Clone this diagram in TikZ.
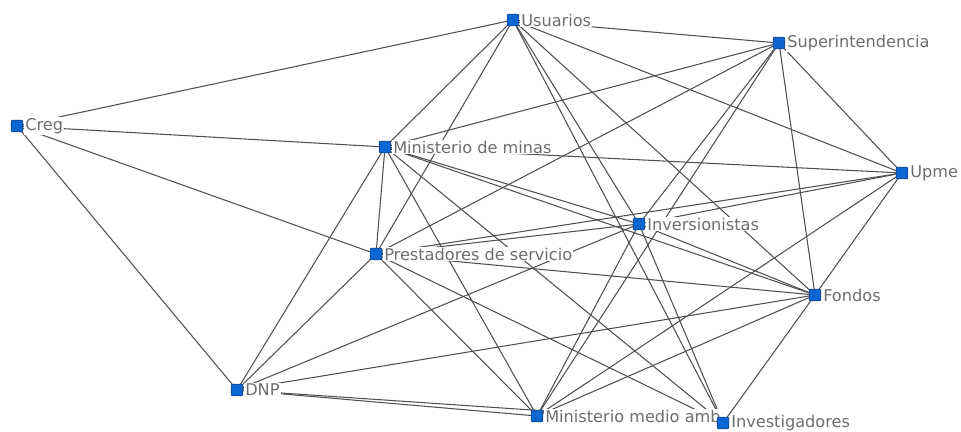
\documentclass[tikz,border=0pt]{standalone}
\usepackage{fontspec}
\setmainfont{DejaVu Sans}
\usetikzlibrary{backgrounds}
\definecolor{nodeblue}{RGB}{12,102,210}
\definecolor{nodeedge}{RGB}{20,70,150}
\definecolor{tagtext}{RGB}{110,110,110}
\definecolor{linkgray}{RGB}{80,80,80}
\tikzset{
  actor/.style={draw=nodeedge,fill=nodeblue,minimum size=6.6pt,inner sep=0pt,rounded corners=0.6pt,line width=0.4pt},
  tag/.style={font=\fontsize{9.2}{11}\selectfont,text=tagtext,fill=white,inner sep=0.6pt},
  link/.style={draw=linkgray,line width=0.6pt}
}
\begin{document}
\begin{tikzpicture}[x=0.02cm,y=-0.02cm,label distance=0.4pt]
\useasboundingbox (0,0) rectangle (961,432);
\node[actor,label={[tag]right:Usuarios}] (usu) at (513,20) {};
\node[actor,label={[tag]right:Superintendencia}] (sup) at (779,43) {};
\node[actor,label={[tag]right:Creg}] (creg) at (17,126) {};
\node[actor,label={[tag]right:Ministerio de minas}] (minas) at (385,147) {};
\node[actor,label={[tag]right:Upme}] (upme) at (902,173) {};
\node[actor,label={[tag]right:Inversionistas}] (inver) at (639,224) {};
\node[actor,label={[tag]right:Prestadores de servicio}] (prest) at (376,254) {};
\node[actor,label={[tag]right:Fondos}] (fondos) at (815,295) {};
\node[actor,label={[tag]right:DNP}] (dnp) at (237,390) {};
\node[actor,label={[tag]right:Ministerio medio amb}] (medio) at (537,416) {};
\node[actor,label={[tag]right:Investigadores}] (invest) at (723,423) {};
\begin{pgfonlayer}{background}
\draw[link](creg.center)--(usu.center);
\draw[link](creg.center)--(minas.center);
\draw[link](creg.center)--(prest.center);
\draw[link](creg.center)--(dnp.center);
\draw[link](usu.center)--(sup.center);
\draw[link](usu.center)--(minas.center);
\draw[link](usu.center)--(prest.center);
\draw[link](usu.center)--(upme.center);
\draw[link](usu.center)--(fondos.center);
\draw[link](usu.center)--(inver.center);
\draw[link](usu.center)--(invest.center);
\draw[link](sup.center)--(minas.center);
\draw[link](sup.center)--(prest.center);
\draw[link](sup.center)--(inver.center);
\draw[link](sup.center)--(medio.center);
\draw[link](sup.center)--(fondos.center);
\draw[link](sup.center)--(upme.center);
\draw[link](minas.center)--(upme.center);
\draw[link](minas.center)--(dnp.center);
\draw[link](minas.center)--(prest.center);
\draw[link](minas.center)--(medio.center);
\draw[link](minas.center)--(invest.center);
\draw[link](minas.center)--(inver.center);
\draw[link](minas.center)--(fondos.center);
\draw[link](upme.center)--(prest.center);
\draw[link](upme.center)--(inver.center);
\draw[link](upme.center)--(medio.center);
\draw[link](upme.center)--(fondos.center);
\draw[link](inver.center)--(prest.center);
\draw[link](inver.center)--(dnp.center);
\draw[link](inver.center)--(medio.center);
\draw[link](inver.center)--(fondos.center);
\draw[link](inver.center)--(invest.center);
\draw[link](prest.center)--(dnp.center);
\draw[link](prest.center)--(medio.center);
\draw[link](prest.center)--(invest.center);
\draw[link](prest.center)--(fondos.center);
\draw[link](fondos.center)--(dnp.center);
\draw[link](fondos.center)--(medio.center);
\draw[link](fondos.center)--(invest.center);
\draw[link](dnp.center)--(medio.center);
\draw[link](dnp.center)--(invest.center);
\end{pgfonlayer}
\end{tikzpicture}
\end{document}
